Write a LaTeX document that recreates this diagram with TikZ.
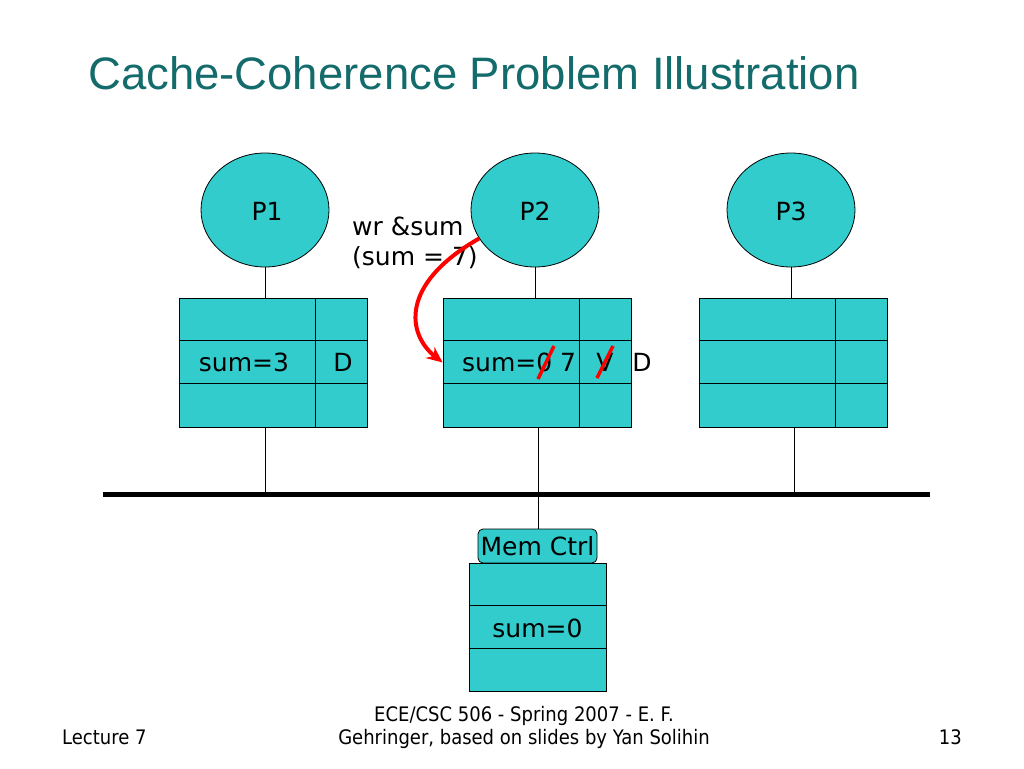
\documentclass[tikz,border=0pt]{standalone}
\usepackage{fontspec}
\setmainfont{DejaVu Sans}
\newfontfamily\titlefont{Liberation Sans}
\newfontfamily\footfont[FakeStretch=0.9]{DejaVu Sans}
\usetikzlibrary{shapes.geometric,arrows.meta}
\definecolor{cyanfill}{HTML}{33CCCC}
\definecolor{titleteal}{HTML}{146B6B}
\tikzset{
  proc/.style={ellipse, draw, fill=cyanfill, minimum width=128pt, minimum height=114pt, inner sep=0pt, line width=0.8pt},
  cachebox/.style={rectangle, draw, fill=cyanfill, minimum width=188pt, minimum height=129pt, inner sep=0pt, line width=0.8pt},
  membox/.style={rectangle, draw, fill=cyanfill, minimum width=137pt, minimum height=128pt, inner sep=0pt, line width=0.8pt},
  ctrlbox/.style={rectangle, rounded corners=5pt, draw, fill=cyanfill, minimum width=119pt, minimum height=34pt, inner sep=0pt, line width=0.8pt},
  wire/.style={line width=0.8pt},
  divider/.style={line width=0.8pt},
  strike/.style={red, line width=3.5pt},
  body/.style={font=\fontsize{25}{30}\selectfont, inner sep=0pt},
  foot/.style={font=\footfont\fontsize{20}{24}\selectfont, inner sep=0pt},
}
\begin{document}
\begin{tikzpicture}[x=1pt,y=-1pt]
\useasboundingbox (0,0) rectangle (1024,768);
% title
\node[anchor=base west, inner sep=0pt, text=titleteal, font=\titlefont\fontsize{45.5}{48}\selectfont] (title) at (88,89) {Cache-Coherence Problem Illustration};
% processors
\node[proc] (p1) at (265,210) {};
\node[proc] (p2) at (535,210) {};
\node[proc] (p3) at (791,210) {};
\node[body] (p1t) at (267,211) {P1};
\node[body] (p2t) at (535,211) {P2};
\node[body] (p3t) at (791,211) {P3};
% caches
\node[cachebox] (c1) at (273,362.5) {};
\node[cachebox] (c2) at (537,362.5) {};
\node[cachebox] (c3) at (793,362.5) {};
\foreach \c in {c1,c2,c3}{
  \draw[divider] ([xshift=137pt]\c.north west) -- ([xshift=137pt]\c.south west);
  \draw[divider] ([yshift=-43pt]\c.north west) -- ([yshift=-43pt]\c.north east);
  \draw[divider] ([yshift=-86pt]\c.north west) -- ([yshift=-86pt]\c.north east);
}
% bus
\coordinate (busL) at (103,494);
\coordinate (busR) at (930,494);
\draw[line width=5pt] (busL) -- (busR);
% wires
\draw[wire] (p1.south) -- (p1.south |- c1.north);
\draw[wire] (p2.south) -- (p2.south |- c2.north);
\draw[wire] (p3.south) -- (p3.south |- c3.north);
\coordinate (b1) at (265,494);
\coordinate (b2) at (538,494);
\coordinate (b3) at (794,494);
\draw[wire] (b1 |- c1.south) -- (b1);
\draw[wire] (b2 |- c2.south) -- (b2);
\draw[wire] (b3 |- c3.south) -- (b3);
% memory
\node[ctrlbox] (mc) at (537.5,546) {};
\node[body] (mct) at (537.5,546) {Mem Ctrl};
\node[membox] (mem) at (537.5,627) {};
\draw[divider] ([yshift=-43pt]mem.north west) -- ([yshift=-43pt]mem.north east);
\draw[divider] ([yshift=-86pt]mem.north west) -- ([yshift=-86pt]mem.north east);
\draw[wire] (b2) -- (b2 |- mc.north);
\node[body] (memt) at (537.5,628) {sum=0};
% cache texts
\node[body] (c1s) at (244,362) {sum=3};
\node[body] (c1d) at (343,362) {D};
\node[body, anchor=west] (c2s) at (462,362) {sum=0 7};
\node[body] (c2v) at (605,362) {V};
\node[body] (c2d) at (642,362) {D};
\draw[strike] (538,379) -- (554,346);
\draw[strike] (597,378) -- (613,346);
% annotation
\node[body, anchor=north west, align=left] (wr) at (352,217) {wr \&sum\\(sum = 7)};
\draw[red, line width=4pt, -{Stealth[length=16pt,width=14pt]}] (p2.207) .. controls (398,285) and (408,335) .. (c2.west);
% footer
\node[foot, anchor=base west] (lec) at (62,744) {Lecture 7};
\node[foot, anchor=base] (f1) at (524,721) {ECE/CSC 506 - Spring 2007 - E. F.};
\node[foot, anchor=base] (f2) at (524,744) {Gehringer, based on slides by Yan Solihin};
\node[foot, anchor=base east] (pg) at (962,744) {13};
\end{tikzpicture}
\end{document}
